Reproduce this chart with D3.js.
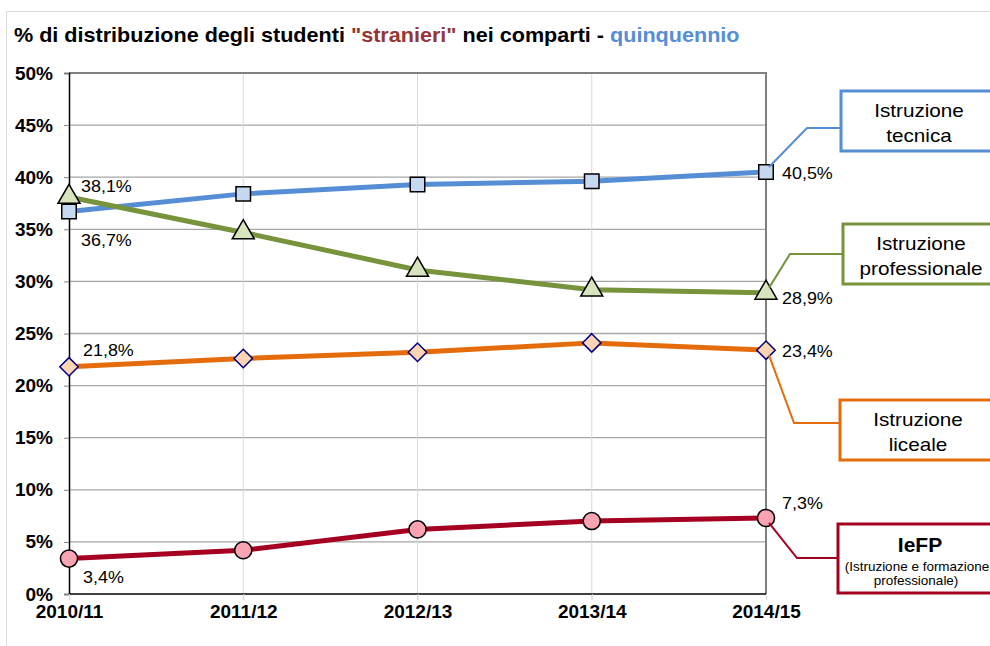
<!DOCTYPE html>
<html>
<head>
<meta charset="utf-8">
<script src="https://cdn.jsdelivr.net/npm/d3@7"></script>
<style>
  body { margin: 0; background: #fff; }
  text { font-family: "Liberation Sans", Arial, sans-serif; }
</style>
</head>
<body>
<div id="chart"></div>
<script>
// data
let years = ["2010/11", "2011/12", "2012/13", "2013/14", "2014/15"]
let tecnica = [36.7, 38.4, 39.3, 39.6, 40.5]
let professionale = [38.1, 34.7, 31.1, 29.2, 28.9]
let liceale = [21.8, 22.6, 23.2, 24.1, 23.4]
let iefp = [3.4, 4.2, 6.2, 7.0, 7.3]
let yTicks = [0, 5, 10, 15, 20, 25, 30, 35, 40, 45, 50]

let svgWidth = 990, svgHeight = 646
let margin = {top: 73, right: 224, bottom: 52, left: 69}

let svg = d3.select("#chart").append("svg")
    .attr("width", svgWidth)
    .attr("height", svgHeight)

// outer frame
svg.append("rect")
    .attr("x", 6.5).attr("y", 11.5)
    .attr("width", 1100).attr("height", 700)
    .attr("fill", "none").attr("stroke", "#d9d9d9")

// title
let title = svg.append("text")
    .attr("transform", "translate(14,42) scale(1.08,1)")
    .style("font-size", "20px").style("font-weight", "bold")
title.append("tspan").text("% di distribuzione degli studenti ")
title.append("tspan").attr("fill", "#953735").text("\"stranieri\"")
title.append("tspan").text(" nei comparti - ")
title.append("tspan").attr("fill", "#558ed5").text("quinquennio")

let xScale = d3.scalePoint()
    .domain(years)
    .range([margin.left, svgWidth - margin.right])

let yScale = d3.scaleLinear()
    .domain([0, 50])
    .range([svgHeight - margin.bottom, margin.top])

let x0 = margin.left, x1 = svgWidth - margin.right
let y0 = svgHeight - margin.bottom, y1 = margin.top

// gridlines
svg.append("g").selectAll("line")
    .data(yTicks.filter(d => d > 0 && d < 50))
    .enter().append("line")
    .attr("x1", x0).attr("x2", x1)
    .attr("y1", d => yScale(d)).attr("y2", d => yScale(d))
    .attr("stroke", "#a6a6a6").attr("stroke-width", 1.3)

svg.append("g").selectAll("line")
    .data(years.slice(1, 4))
    .enter().append("line")
    .attr("x1", d => xScale(d)).attr("x2", d => xScale(d))
    .attr("y1", y1).attr("y2", y0 + 6)
    .attr("stroke", "#d9d9d9").attr("stroke-width", 1)

// plot border (top and right)
svg.append("path")
    .attr("d", "M" + x0 + "," + y1 + "H" + x1 + "V" + y0)
    .attr("fill", "none").attr("stroke", "#808080").attr("stroke-width", 2)

// axes
let yAxis = d3.axisLeft(yScale).tickValues(yTicks).tickSize(5).tickFormat(d => d + "%")
let yG = svg.append("g")
    .attr("transform", "translate(" + x0 + ",0)")
    .call(yAxis)
yG.select(".domain").attr("stroke", "#000").attr("stroke-width", 1.5)
yG.selectAll(".tick line").attr("stroke", "#808080")
yG.selectAll(".tick text")
    .attr("x", -16)
    .style("font-size", "19px").style("font-weight", "bold")
    .style("font-family", "'Liberation Sans', Arial, sans-serif")
    .attr("fill", "#000")

let xAxis = d3.axisBottom(xScale).tickSize(6)
let xG = svg.append("g")
    .attr("transform", "translate(0," + y0 + ")")
    .call(xAxis)
xG.select(".domain").attr("d", "M" + x0 + ",0H" + x1).attr("stroke", "#000").attr("stroke-width", 1.5)
xG.selectAll(".tick line").attr("stroke", "#d9d9d9")
xG.selectAll(".tick text")
    .attr("y", 11)
    .style("font-size", "19px").style("font-weight", "bold")
    .style("font-family", "'Liberation Sans', Arial, sans-serif")
    .attr("fill", "#000")

let series = [
  {name: "tecnica", values: tecnica, color: "#558ed5", fill: "#c6d9f1", mstroke: "#000", marker: "square"},
  {name: "professionale", values: professionale, color: "#77933c", fill: "#d7e4bd", mstroke: "#000", marker: "triangle"},
  {name: "liceale", values: liceale, color: "#e46c0a", fill: "#fcd5b5", mstroke: "#000080", marker: "diamond"},
  {name: "iefp", values: iefp, color: "#a50021", fill: "#f9a3b3", mstroke: "#000", marker: "circle"}
]

let line = d3.line()
    .x((d, i) => xScale(years[i]))
    .y(d => yScale(d))

// square rotated by 45 degrees, like the Excel diamond marker
let diamond45 = {
  draw: function(context, size) {
    let r = Math.sqrt(size / 2)
    context.moveTo(0, -r)
    context.lineTo(r, 0)
    context.lineTo(0, r)
    context.lineTo(-r, 0)
    context.closePath()
  }
}

let symbols = {
  square: d3.symbol().type(d3.symbolSquare).size(210),
  triangle: d3.symbol().type(d3.symbolTriangle).size(210),
  diamond: d3.symbol().type(diamond45).size(170),
  circle: d3.symbol().type(d3.symbolCircle).size(230)
}

series.forEach(function(s) {
  svg.append("path")
      .datum(s.values)
      .attr("d", line)
      .attr("fill", "none")
      .attr("stroke", s.color)
      .attr("stroke-width", 5)
})

series.forEach(function(s) {
  svg.append("g").selectAll("path")
      .data(s.values)
      .enter().append("path")
      .attr("transform", (d, i) => "translate(" + xScale(years[i]) + "," + yScale(d) + ")")
      .attr("d", symbols[s.marker])
      .attr("fill", s.fill)
      .attr("stroke", s.mstroke)
      .attr("stroke-width", 1.5)
})

// data labels (first and last point), dx/dy in px from the point
let labelOffsets = {
  tecnica: [[12, 34], [16, 7]],
  professionale: [[12, -5], [16, 11]],
  liceale: [[14, -11], [16, 7]],
  iefp: [[14, 24], [16, -9]]
}
series.forEach(function(s) {
  let idx = [0, s.values.length - 1]
  idx.forEach(function(i, k) {
    let off = labelOffsets[s.name][k]
    svg.append("text")
        .attr("transform", "translate(" + (xScale(years[i]) + off[0]) + "," + (yScale(s.values[i]) + off[1]) + ") scale(1.12,1)")
        .style("font-size", "16px")
        .text(d3.format(".1f")(s.values[i]).replace(".", ",") + "%")
  })
})

// callout boxes
let callouts = [
  {name: "tecnica", lines: ["Istruzione", "tecnica"], box: [841, 91, 160, 60], elbow: [807, 128]},
  {name: "professionale", lines: ["Istruzione", "professionale"], box: [843, 224, 160, 60], elbow: [790, 254]},
  {name: "liceale", lines: ["Istruzione", "liceale"], box: [840, 400, 160, 60], elbow: [794, 423]},
  {name: "iefp", lines: ["IeFP", "(Istruzione e formazione", "professionale)"], box: [838, 524, 160, 69], elbow: [797, 558]}
]
callouts.forEach(function(c) {
  let s = series.find(d => d.name == c.name)
  let last = s.values[s.values.length - 1]
  let px = xScale(years[years.length - 1]), py = yScale(last)
  let b = c.box
  let start = c.elbow[1] < py ? [px + 3, py - 5] : [px + 3, py + 5]
  svg.append("path")
      .attr("d", "M" + start[0] + "," + start[1] + "L" + c.elbow[0] + "," + c.elbow[1] + "H" + b[0])
      .attr("fill", "none").attr("stroke", s.color).attr("stroke-width", 2)
  svg.append("rect")
      .attr("x", b[0]).attr("y", b[1]).attr("width", b[2]).attr("height", b[3])
      .attr("fill", "#fff").attr("stroke", s.color).attr("stroke-width", 3)
  let cx = b[0] + 78
  if (c.name == "iefp") {
    svg.append("text")
        .attr("transform", "translate(" + (cx + 4) + "," + (b[1] + 28) + ")")
        .attr("text-anchor", "middle")
        .style("font-size", "21px").style("font-weight", "bold")
        .text(c.lines[0])
    svg.append("text")
        .attr("transform", "translate(" + (cx + 1) + "," + (b[1] + 47) + ") scale(1.08,1)")
        .attr("text-anchor", "middle")
        .style("font-size", "12.5px")
        .text(c.lines[1])
    svg.append("text")
        .attr("transform", "translate(" + cx + "," + (b[1] + 61) + ") scale(1.08,1)")
        .attr("text-anchor", "middle")
        .style("font-size", "12.5px")
        .text(c.lines[2])
  } else {
    c.lines.forEach(function(t, k) {
      svg.append("text")
          .attr("transform", "translate(" + cx + "," + (b[1] + 26 + k * 25) + ") scale(1.15,1)")
          .attr("text-anchor", "middle")
          .style("font-size", "18px")
          .text(t)
    })
  }
})
</script>
</body>
</html>
